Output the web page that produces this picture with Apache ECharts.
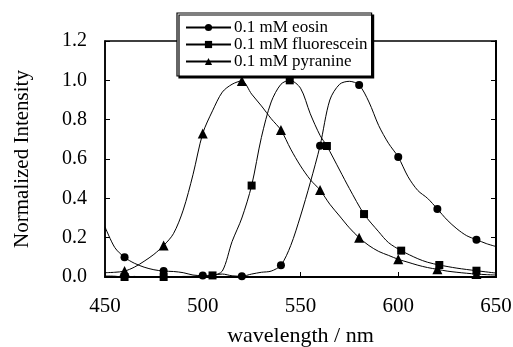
<!DOCTYPE html>
<html>
<head>
<meta charset="utf-8">
<script src="https://cdn.jsdelivr.net/npm/echarts@6/dist/echarts.min.js"></script>
<style>
html,body{margin:0;padding:0;background:#fff;}
#chart{width:513px;height:347px;}
</style>
</head>
<body>
<div id="chart"></div>
<script>
// ---- data ----
var seriesNames = ['0.1 mM eosin', '0.1 mM fluorescein', '0.1 mM pyranine'];
var xTicks = [450, 500, 550, 600, 650];
var yTicks = [0.0, 0.2, 0.4, 0.6, 0.8, 1.0, 1.2];

// eosin: continuous curve + marker points
var eosinCurveX = [450, 455, 465, 470, 475, 485, 490, 495, 505, 510, 515, 525, 530, 535, 545, 550, 555, 565, 570, 575, 585, 590, 595, 605, 610, 615, 625, 630, 635, 645, 650];
var eosinCurveY = [0.255, 0.15, 0.07, 0.05, 0.037, 0.028, 0.022, 0.01, 0.01, 0.015, 0.006, 0.015, 0.024, 0.03, 0.16, 0.31, 0.48, 0.90, 0.98, 0.995, 0.89, 0.77, 0.68, 0.51, 0.44, 0.40, 0.29, 0.245, 0.21, 0.17, 0.155];
var eosinMarkX = [460, 480, 500, 520, 540, 560, 580, 600, 620, 640];
var eosinMarkY = [0.10, 0.03, 0.007, 0.004, 0.06, 0.667, 0.976, 0.61, 0.346, 0.19];

// fluorescein
var fluorCurveX = [450, 455, 465, 470, 475, 485, 490, 495, 500, 510, 515, 520, 530, 535, 540, 550, 555, 560, 570, 575, 590, 595, 610, 615, 630, 650];
var fluorCurveY = [0.005, 0.004, 0.003, 0.0, 0.0, 0.0, 0.003, 0.003, 0.005, 0.03, 0.18, 0.30, 0.71, 0.89, 0.98, 0.96, 0.83, 0.72, 0.544, 0.45, 0.23, 0.175, 0.093, 0.075, 0.045, 0.02];
var fluorMarkX = [460, 480, 505, 525, 544.5, 563.5, 582.5, 601.5, 621, 640];
var fluorMarkY = [0.0, 0.0, 0.008, 0.465, 1.0, 0.666, 0.32, 0.134, 0.061, 0.032];

// pyranine
var pyrCurveX = [450, 455, 465, 470, 475, 485, 490, 495, 505, 510, 515, 525, 530, 535, 545, 550, 555, 565, 570, 575, 585, 590, 595, 605, 610, 615, 625, 630, 635, 645, 650];
var pyrCurveY = [0.022, 0.024, 0.05, 0.08, 0.115, 0.22, 0.34, 0.52, 0.845, 0.94, 0.98, 0.93, 0.87, 0.805, 0.65, 0.565, 0.495, 0.37, 0.31, 0.25, 0.16, 0.13, 0.11, 0.075, 0.06, 0.048, 0.03, 0.024, 0.019, 0.012, 0.01];
var pyrMarkX = [460, 480, 500, 520, 540, 560, 580, 600, 620, 640];
var pyrMarkY = [0.03, 0.16, 0.73, 0.997, 0.747, 0.442, 0.20, 0.09, 0.039, 0.015];

// ---- build ----
function combine(cx, cy, mx, my, sym) {
  var pts = [];
  for (var i = 0; i < cx.length; i++) pts.push({value: [cx[i], cy[i]], symbol: 'none'});
  for (var j = 0; j < mx.length; j++) pts.push({value: [mx[j], my[j]], symbol: sym});
  pts.sort(function (a, b) { return a.value[0] - b.value[0]; });
  return pts;
}

var FONT = "'Liberation Serif', 'DejaVu Serif', 'Times New Roman', serif";
var symbols = ['circle', 'rect', 'triangle'];
var sizes = [8, 8, 10];
var datasets = [
  combine(eosinCurveX, eosinCurveY, eosinMarkX, eosinMarkY, symbols[0]),
  combine(fluorCurveX, fluorCurveY, fluorMarkX, fluorMarkY, symbols[1]),
  combine(pyrCurveX, pyrCurveY, pyrMarkX, pyrMarkY, symbols[2])
];

var series = seriesNames.map(function (n, i) {
  return {
    name: n,
    type: 'line',
    data: datasets[i],
    smooth: 0.3,
    symbol: symbols[i],
    symbolSize: sizes[i],
    showSymbol: true,
    lineStyle: {color: '#000', width: 1},
    itemStyle: {color: '#000', borderWidth: 0},
    emphasis: {disabled: true},
    animation: false,
    z: 3
  };
});

var chart = echarts.init(document.getElementById('chart'), null, {renderer: 'canvas'});
chart.setOption({
  backgroundColor: '#fff',
  animation: false,
  grid: {
    left: 105, right: 17, top: 41, bottom: 70,
    containLabel: false,
    outerBoundsMode: 'none',
    show: true, borderColor: '#000', borderWidth: 1.5, backgroundColor: 'transparent'
  },
  legend: {
    orient: 'vertical',
    left: 177, top: 13,
    padding: [6, 4, 6, 8],
    itemGap: 0,
    itemWidth: 45,
    itemHeight: 9,
    backgroundColor: '#fff',
    borderColor: '#000',
    borderWidth: 1.2,
    borderRadius: 0,
    shadowColor: '#000',
    shadowBlur: 0,
    shadowOffsetX: 2,
    shadowOffsetY: 2,
    textStyle: {fontFamily: FONT, fontSize: 17, color: '#000', lineHeight: 15, padding: [0, 0, 0, -2]},
    data: seriesNames
  },
  xAxis: {
    type: 'value',
    min: xTicks[0], max: xTicks[xTicks.length - 1], interval: 50,
    name: 'wavelength / nm',
    nameLocation: 'middle',
    nameGap: 48,
    nameTextStyle: {fontFamily: FONT, fontSize: 22, color: '#000'},
    axisLine: {show: true, lineStyle: {color: '#000', width: 2}},
    axisTick: {show: true, inside: true, length: 5, lineStyle: {color: '#000', width: 1}},
    axisLabel: {fontFamily: FONT, fontSize: 21, color: '#000', margin: 19},
    splitLine: {show: false}
  },
  yAxis: [{
    type: 'value',
    min: 0, max: 1.2, interval: 0.2,
    name: 'Normalized Intensity',
    nameLocation: 'middle',
    nameGap: 72,
    nameTextStyle: {fontFamily: FONT, fontSize: 21, color: '#000'},
    axisLine: {show: true, lineStyle: {color: '#000', width: 1.5}},
    axisTick: {show: true, inside: true, length: 5, lineStyle: {color: '#000', width: 1}},
    axisLabel: {fontFamily: FONT, fontSize: 20, color: '#000', margin: 18,
      formatter: function (v) { return v.toFixed(1); }},
    splitLine: {show: false}
  }, {
    type: 'value',
    position: 'right',
    min: 0, max: 1.2, interval: 0.2,
    axisLine: {show: true, lineStyle: {color: '#000', width: 2}},
    axisTick: {show: true, inside: true, length: 5, lineStyle: {color: '#000', width: 1}},
    axisLabel: {show: false},
    splitLine: {show: false}
  }],
  series: series
});
</script>
</body>
</html>
